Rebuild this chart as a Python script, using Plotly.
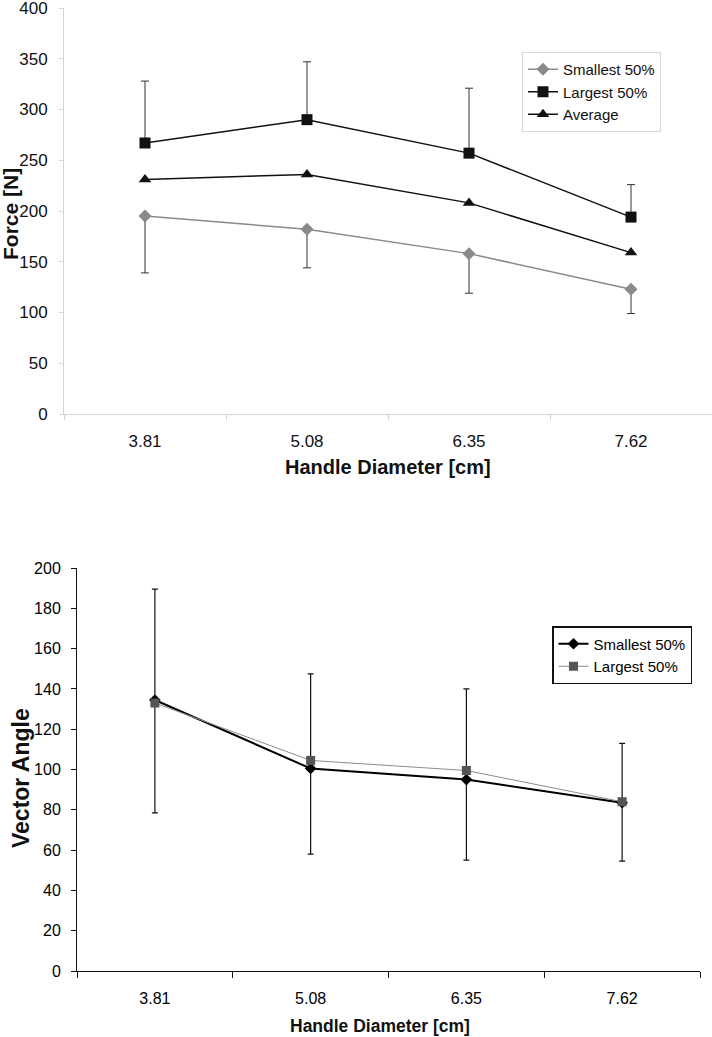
import plotly.graph_objects as go

# ---------------- data ----------------
diameters = ["3.81", "5.08", "6.35", "7.62"]

force_smallest = [195, 182, 158, 123]
force_largest = [267, 290, 257, 194]
force_average = [231, 236, 208, 159]
force_largest_upper = [328, 347, 321, 226]
force_smallest_lower = [139, 144, 119, 99]

angle_smallest = [134.5, 100.5, 95, 83.5]
angle_largest = [133, 104.5, 99.5, 84]
angle_upper = [189.5, 147.5, 140, 113]
angle_lower = [78.5, 58, 55, 54.5]

W, H = 712, 1037
FONT = "Liberation Sans, Arial, sans-serif"

fig = go.Figure()

# ---------------- top chart ----------------
fig.add_trace(go.Scatter(
    x=diameters, y=force_smallest, name="Smallest 50%", mode="lines+markers",
    line=dict(color="#8a8a8a", width=1.5),
    marker=dict(symbol="diamond", size=10, color="#8a8a8a"),
    error_y=dict(type="data", symmetric=False,
                 array=[0] * 4,
                 arrayminus=[v - lo for v, lo in zip(force_smallest, force_smallest_lower)],
                 color="#333333", thickness=1, width=4),
    xaxis="x", yaxis="y", legend="legend"))
fig.add_trace(go.Scatter(
    x=diameters, y=force_largest, name="Largest 50%", mode="lines+markers",
    line=dict(color="#111111", width=1.5),
    marker=dict(symbol="square", size=11, color="#111111"),
    error_y=dict(type="data", symmetric=False,
                 array=[hi - v for v, hi in zip(force_largest, force_largest_upper)],
                 arrayminus=[0] * 4,
                 color="#333333", thickness=1, width=4),
    xaxis="x", yaxis="y", legend="legend"))
fig.add_trace(go.Scatter(
    x=diameters, y=force_average, name="Average", mode="lines+markers",
    line=dict(color="#111111", width=1.5),
    marker=dict(symbol="triangle-up", size=11, color="#111111"),
    xaxis="x", yaxis="y", legend="legend"))

# ---------------- bottom chart ----------------
fig.add_trace(go.Scatter(
    x=diameters, y=angle_smallest, name="Smallest 50%", mode="lines+markers",
    line=dict(color="#000000", width=2),
    marker=dict(symbol="diamond", size=9, color="#000000"),
    error_y=dict(type="data", symmetric=False,
                 array=[0] * 4,
                 arrayminus=[v - lo for v, lo in zip(angle_smallest, angle_lower)],
                 color="#111111", thickness=1.2, width=3),
    xaxis="x2", yaxis="y2", legend="legend2"))
fig.add_trace(go.Scatter(
    x=diameters, y=angle_largest, name="Largest 50%", mode="lines+markers",
    line=dict(color="#8c8c8c", width=1),
    marker=dict(symbol="square", size=9, color="#555555"),
    error_y=dict(type="data", symmetric=False,
                 array=[hi - v for v, hi in zip(angle_largest, angle_upper)],
                 arrayminus=[0] * 4,
                 color="#111111", thickness=1.2, width=3),
    xaxis="x2", yaxis="y2", legend="legend2"))


def px_x(p):
    return p / W


def px_y(p):
    return 1 - p / H


tick_font_top = dict(family=FONT, size=17, color="#111111")
tick_font_bot = dict(family=FONT, size=16, color="#000000")


def title(text, x, y, size, angle=0):
    return dict(text="<b>%s</b>" % text, x=px_x(x), y=px_y(y), xref="paper", yref="paper",
                xanchor="center", yanchor="middle", textangle=angle, showarrow=False,
                font=dict(family=FONT, size=size, color="#111111"))


fig.update_layout(
    width=W, height=H,
    margin=dict(l=0, r=0, t=0, b=0, autoexpand=False),
    paper_bgcolor="white", plot_bgcolor="white",
    font=dict(family=FONT),
    xaxis=dict(domain=[px_x(64), px_x(712)], type="category", range=[-0.5, 3.5],
               showline=True, linecolor="#d4d4d4", linewidth=1,
               ticks="outside", tickson="boundaries", ticklen=5, tickcolor="#d4d4d4",
               showgrid=False, tickfont=tick_font_top, anchor="y", zeroline=False,
               automargin=False, ticklabelstandoff=12, ticklabeloverflow="allow"),
    yaxis=dict(domain=[px_y(414), px_y(8)], range=[0, 400], dtick=50,
               showline=True, linecolor="#d4d4d4", linewidth=1,
               ticks="outside", ticklen=4, tickcolor="#d4d4d4",
               showgrid=False, zeroline=False, tickfont=tick_font_top,
               ticklabelstandoff=8, anchor="x", automargin=False,
               ticklabeloverflow="allow"),
    xaxis2=dict(domain=[px_x(77), px_x(700)], type="category", range=[-0.5, 3.5],
                showline=True, linecolor="#111111", linewidth=1,
                ticks="outside", tickson="boundaries", ticklen=6, tickcolor="#111111",
                showgrid=False, tickfont=tick_font_bot, anchor="y2", zeroline=False,
                automargin=False, ticklabelstandoff=13, ticklabeloverflow="allow"),
    yaxis2=dict(domain=[px_y(971), px_y(568)], range=[0, 200], dtick=20,
                showline=True, linecolor="#111111", linewidth=1,
                ticks="outside", ticklen=5, tickcolor="#111111",
                showgrid=False, zeroline=False, tickfont=tick_font_bot,
                ticklabelstandoff=7, anchor="x2", automargin=False,
                ticklabeloverflow="allow"),
    legend=dict(x=px_x(522), y=px_y(52), xanchor="left", yanchor="top",
                bgcolor="white", bordercolor="#d8d8d8", borderwidth=1,
                font=dict(family=FONT, size=15, color="#111111"),
                tracegroupgap=0, itemwidth=30),
    legend2=dict(x=px_x(552), y=px_y(626), xanchor="left", yanchor="top",
                 bgcolor="white", bordercolor="#111111", borderwidth=1.5,
                 font=dict(family=FONT, size=15, color="#000000"),
                 tracegroupgap=0, itemwidth=30),
    annotations=[
        title("Force [N]", 11, 214, 21, -90),
        title("Handle Diameter [cm]", 388, 467, 20),
        title("Vector Angle", 21, 778, 23, -90),
        title("Handle Diameter [cm]", 380, 1026, 17.5),
    ],
)

fig.write_html("out.html", config={"displayModeBar": False},
               post_script="document.body.style.margin='0px';")
